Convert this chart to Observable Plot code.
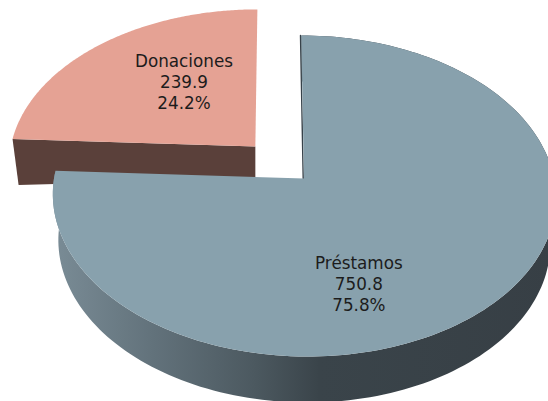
<!DOCTYPE html>
<html>
<head>
<meta charset="utf-8">
<script src="https://cdn.jsdelivr.net/npm/d3@7"></script>
<script src="https://cdn.jsdelivr.net/npm/@observablehq/plot@0.6"></script>
<style>html,body{margin:0;padding:0;background:#fff}svg{display:block}</style>
</head>
<body>
<div id="chart"></div>
<script>
// Data
const categories = ["Préstamos", "Donaciones"];
const amounts = [750.8, 239.9];
const shares = ["75.8%", "24.2%"];
const faceColors = ["#88a1ad", "#e5a294"];
const wallColors = ["url(#rimGradient)", "#5a403a"];
const explode = [0, 0.285];
const rimInset = [0.022, 0.025];
const labelOffsets = [[-36, 45], [9, -12]];

// Perspective pie model
const W = 548, H = 401;
const cx = 303.5, cy = 178, a = 250, b = 158.6, k = 0.109, shear = 0.012;
const total = d3.sum(amounts);
const project = (X, Y) => ({
  x: cx + a * (X - shear * Y) / (1 + k * Y),
  y: cy - b * Y / (1 + k * Y)
});
let cursor = 0;
const slices = categories.map((name, i) => {
  const start = cursor;
  const end = cursor + amounts[i] / total * 2 * Math.PI;
  cursor = end;
  return {name, i, start, end, mid: (start + end) / 2, e: explode[i]};
});
const ox = s => s.e * Math.sin(s.mid);
const oy = s => s.e * Math.cos(s.mid);
const pt = (s, th, r = 1) => project(ox(s) + r * Math.sin(th), oy(s) + r * Math.cos(th));
const lower = (s, p, r) => {
  const ap = pt(s, 0, 0);
  return {x: ap.x + (p.x - ap.x) * (1 - rimInset[s.i] * r), y: p.y + 32 + 14 * r};
};
const arc = s => d3.range(0, 181).map(j => pt(s, s.start + (s.end - s.start) * j / 180));
const face = s => [pt(s, 0, 0), ...arc(s), pt(s, 0, 0)];
const rim = s => {
  const top = arc(s);
  return [...top, ...top.slice().reverse().map(p => lower(s, p, 1))];
};
const wall = (s, th) => {
  const ap = pt(s, 0, 0), o = pt(s, th);
  return [ap, o, lower(s, o, 1), lower(s, ap, 0)];
};

const defs = () => {
  const d = d3.create("svg:defs");
  const g = d.append("linearGradient").attr("id", "rimGradient");
  [[0, "#7a8c96"], [0.2, "#62727b"], [0.4, "#4c5960"], [0.53, "#3a444a"], [1, "#373f45"]]
    .forEach(([o, c]) => g.append("stop").attr("offset", o).attr("stop-color", c));
  return d.node();
};
const poly = (pts, fill) => Plot.line(pts, {x: "x", y: "y", fill, stroke: "none"});
const [loan, gift] = slices;
const labelMark = s => {
  const c = project(ox(s) + 0.5 * Math.sin(s.mid), oy(s) + 0.5 * Math.cos(s.mid));
  return Plot.text([{...c, text: `${s.name}\n${amounts[s.i]}\n${shares[s.i]}`}], {
    x: "x", y: "y", text: "text",
    dx: labelOffsets[s.i][0], dy: labelOffsets[s.i][1],
    fontSize: 16.8, fontFamily: "DejaVu Sans", fill: "#1c1c1c", lineHeight: 1.25
  });
};

const chart = Plot.plot({
  width: W, height: H,
  margin: 0,
  style: {background: "#fff"},
  x: {domain: [0, W], range: [0, W], axis: null},
  y: {domain: [0, H], range: [0, H], axis: null},
  marks: [
    defs,
    poly(wall(gift, gift.start), wallColors[1]),
    poly(face(gift), faceColors[1]),
    Plot.line([pt(loan, loan.start, 0), pt(loan, loan.start)], {x: "x", y: "y", stroke: "#37424a", strokeWidth: 1.4, dx: -0.8}),
    poly(rim(loan), wallColors[0]),
    poly(face(loan), faceColors[0]),
    ...slices.map(labelMark)
  ]
});
document.getElementById("chart").append(chart);
</script>
</body>
</html>
